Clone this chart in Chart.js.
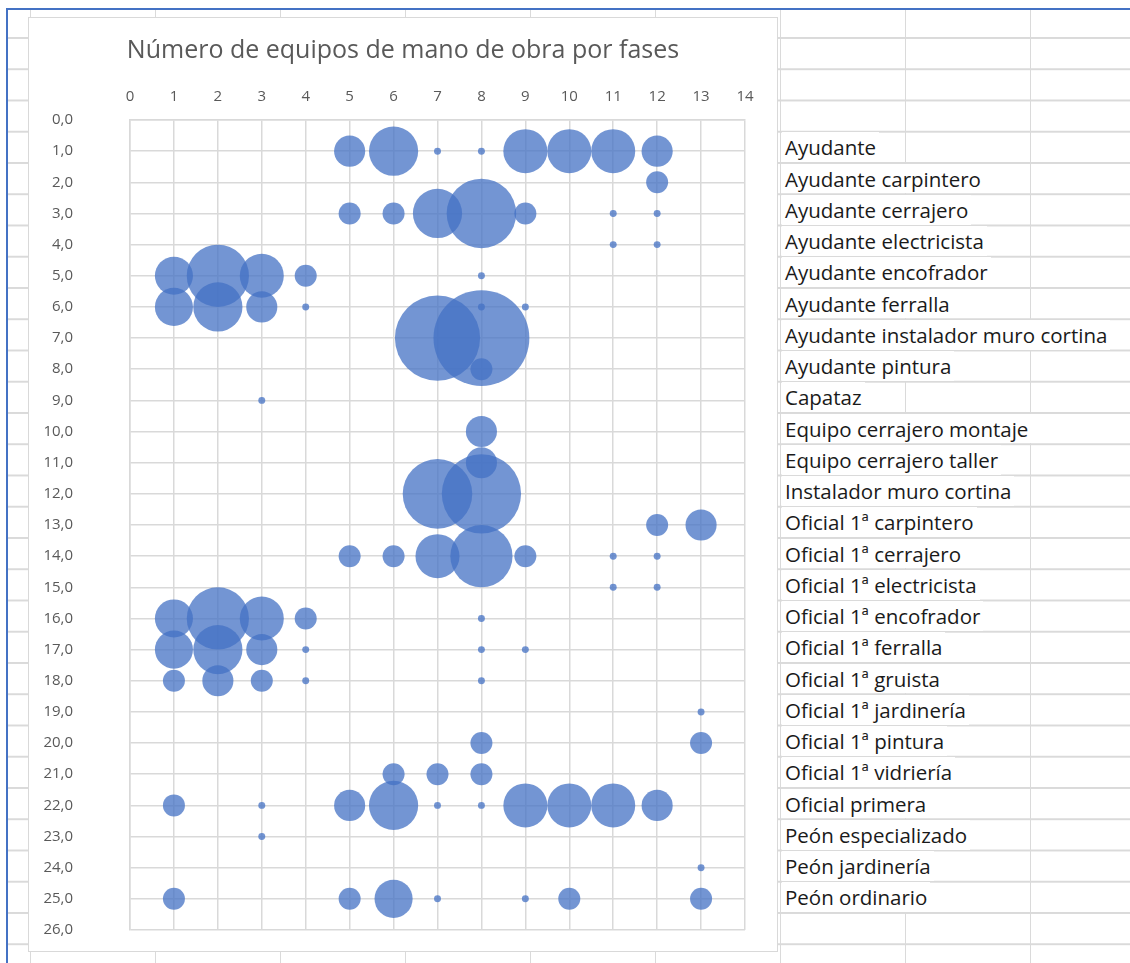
<!doctype html>
<html lang="es">

<head>
    <meta charset="utf-8" />
    <title>Número de equipos de mano de obra por fases</title>
    <script src="https://cdn.jsdelivr.net/npm/chart.js@4.4.1/dist/chart.umd.min.js"></script>
    <style>
        html, body {
            margin: 0;
            padding: 0;
            background: #fff;
        }
        body {
            width: 1130px;
            height: 963px;
            position: relative;
            overflow: hidden;
            font-family: "Open Sans", sans-serif;
        }
        /* rejilla de la hoja de calculo */
        #hoja {
            position: absolute;
            left: 6px;
            top: 8px;
            right: 0;
            bottom: 0;
            border-top: 2px solid #4472c4;
            border-left: 2px solid #4472c4;
            background-image:
                linear-gradient(to right, #dadada 0 1.5px, transparent 1.5px),
                linear-gradient(to bottom, #dadada 0 1.5px, transparent 1.5px);
            background-size: 125px 100%, 100% 31.25px;
            background-position: 22px 0, 0 27px;
        }
        #marco {
            position: absolute;
            left: 28px;
            top: 17px;
            width: 750px;
            height: 935px;
            box-sizing: border-box;
            border: 1px solid #d9d9d9;
            background: #fff;
        }
        #lienzo {
            position: relative;
            width: 748px;
            height: 933px;
        }
        .celda {
            position: absolute;
            left: 782px;
            height: 29.75px;
            line-height: 31px;
            padding: 0 3px 0 3px;
            background: #fff;
            white-space: nowrap;
            font-size: 20.5px;
            color: #1a1a1a;
        }
    </style>
</head>

<body>
    <div id="hoja"></div>
    <div id="marco">
        <div id="lienzo">
            <canvas id="grafico"></canvas>
        </div>
    </div>
    <div id="celdas"></div>

    <script>
        const titulo = 'Número de equipos de mano de obra por fases';

        const categorias = [
            'Ayudante',
            'Ayudante carpintero',
            'Ayudante cerrajero',
            'Ayudante electricista',
            'Ayudante encofrador',
            'Ayudante ferralla',
            'Ayudante instalador muro cortina',
            'Ayudante pintura',
            'Capataz',
            'Equipo cerrajero montaje',
            'Equipo cerrajero taller',
            'Instalador muro cortina',
            'Oficial 1ª carpintero',
            'Oficial 1ª cerrajero',
            'Oficial 1ª electricista',
            'Oficial 1ª encofrador',
            'Oficial 1ª ferralla',
            'Oficial 1ª gruista',
            'Oficial 1ª jardinería',
            'Oficial 1ª pintura',
            'Oficial 1ª vidriería',
            'Oficial primera',
            'Peón especializado',
            'Peón jardinería',
            'Peón ordinario'
        ];

        // fases 1..13 (eje x)
        const fases = [1, 2, 3, 4, 5, 6, 7, 8, 9, 10, 11, 12, 13];

        // tamaño de burbuja por categoria y fase (0 = sin burbuja)
        const equipos = [
            [0, 0, 0, 0, 2, 5, 0.1, 0.1, 4, 4, 4, 2, 0],
            [0, 0, 0, 0, 0, 0, 0, 0, 0, 0, 0, 1, 0],
            [0, 0, 0, 0, 1, 1, 5, 10, 1, 0, 0.1, 0.1, 0],
            [0, 0, 0, 0, 0, 0, 0, 0, 0, 0, 0.1, 0.1, 0],
            [3, 8, 4, 1, 0, 0, 0, 0.1, 0, 0, 0, 0, 0],
            [3, 5, 2, 0.1, 0, 0, 0, 0.1, 0.1, 0, 0, 0, 0],
            [0, 0, 0, 0, 0, 0, 15, 19, 0, 0, 0, 0, 0],
            [0, 0, 0, 0, 0, 0, 0, 1, 0, 0, 0, 0, 0],
            [0, 0, 0.1, 0, 0, 0, 0, 0, 0, 0, 0, 0, 0],
            [0, 0, 0, 0, 0, 0, 0, 2, 0, 0, 0, 0, 0],
            [0, 0, 0, 0, 0, 0, 0, 2, 0, 0, 0, 0, 0],
            [0, 0, 0, 0, 0, 0, 10, 13, 0, 0, 0, 0, 0],
            [0, 0, 0, 0, 0, 0, 0, 0, 0, 0, 0, 1, 2],
            [0, 0, 0, 0, 1, 1, 4, 8, 1, 0, 0.1, 0.1, 0],
            [0, 0, 0, 0, 0, 0, 0, 0, 0, 0, 0.1, 0.1, 0],
            [3, 8, 4, 1, 0, 0, 0, 0.1, 0, 0, 0, 0, 0],
            [3, 5, 2, 0.1, 0, 0, 0, 0.1, 0.1, 0, 0, 0, 0],
            [1, 2, 1, 0.1, 0, 0, 0, 0.1, 0, 0, 0, 0, 0],
            [0, 0, 0, 0, 0, 0, 0, 0, 0, 0, 0, 0, 0.1],
            [0, 0, 0, 0, 0, 0, 0, 1, 0, 0, 0, 0, 1],
            [0, 0, 0, 0, 0, 1, 1, 1, 0, 0, 0, 0, 0],
            [1, 0, 0.1, 0, 2, 5, 0.1, 0.1, 4, 4, 4, 2, 0],
            [0, 0, 0.1, 0, 0, 0, 0, 0, 0, 0, 0, 0, 0],
            [0, 0, 0, 0, 0, 0, 0, 0, 0, 0, 0, 0, 0.1],
            [1, 0, 0, 0, 1, 3, 0.1, 0, 0.1, 1, 0, 0, 1]
        ];

        const ejeX = { min: 0, max: 14, paso: 1 };
        const ejeY = { min: 0, max: 26, paso: 1 };

        const puntos = [];
        equipos.forEach((fila, i) => {
            fila.forEach((v, j) => {
                if (v > 0) puntos.push({ x: fases[j], y: i + 1, v: v });
            });
        });

        // celdas de texto a la derecha del grafico
        const celdas = document.getElementById('celdas');
        categorias.forEach((nombre, i) => {
            const d = document.createElement('div');
            d.className = 'celda';
            d.style.top = (130.75 + 31.25 * i + 1.5) + 'px';
            d.textContent = nombre;
            celdas.appendChild(d);
        });

        const gris = '#595959';
        const rejilla = '#d9d9d9';
        const fuente = { family: 'Open Sans', size: 15 };

        const ctx = document.getElementById('grafico').getContext('2d');
        const grafico = new Chart(ctx, {
            type: 'bubble',
            data: {
                datasets: [{
                    label: 'Equipos',
                    data: puntos,
                    backgroundColor: 'rgba(68, 114, 196, 0.75)',
                    hoverBackgroundColor: 'rgba(68, 114, 196, 0.75)',
                    borderWidth: 0,
                    hoverBorderWidth: 0,
                    radius: c => (c.raw ? 11 * Math.sqrt(c.raw.v) : 3)
                }]
            },
            options: {
                responsive: true,
                maintainAspectRatio: false,
                animation: false,
                layout: { autoPadding: false, padding: { left: 0, right: 0, top: 0, bottom: 21 } },
                plugins: {
                    legend: { display: false },
                    tooltip: { enabled: false },
                    title: {
                        display: true,
                        text: titulo,
                        color: gris,
                        font: { family: 'Open Sans', size: 25, weight: 'normal', lineHeight: 1.2 },
                        padding: { top: 18, bottom: 0 }
                    }
                },
                scales: {
                    x: {
                        type: 'linear',
                        position: 'top',
                        min: ejeX.min,
                        max: ejeX.max,
                        ticks: { stepSize: ejeX.paso, padding: 14, color: gris, font: fuente },
                        grid: { color: rejilla, lineWidth: 1.5, drawTicks: false },
                        border: { color: rejilla, width: 1.5 },
                        afterFit: s => { s.height = 54; }
                    },
                    y: {
                        type: 'linear',
                        position: 'left',
                        reverse: true,
                        min: ejeY.min,
                        max: ejeY.max,
                        ticks: {
                            stepSize: ejeY.paso,
                            padding: 57,
                            color: gris,
                            font: fuente,
                            callback: v => v.toFixed(1).replace('.', ',')
                        },
                        grid: { color: rejilla, lineWidth: 1.5, drawTicks: false },
                        border: { color: rejilla, width: 1.5 },
                        // el padding de las etiquetas no debe comerse el alto del area
                        afterFit: s => {
                            s.width = 101;
                            s.paddingTop = 9;
                            s.paddingBottom = 9;
                        }
                    },
                    margen: {
                        type: 'linear',
                        position: 'right',
                        display: true,
                        grid: { display: false },
                        ticks: { display: false },
                        border: { display: false },
                        afterFit: s => { s.width = 32; }
                    }
                }
            }
        });
    </script>
</body>

</html>
